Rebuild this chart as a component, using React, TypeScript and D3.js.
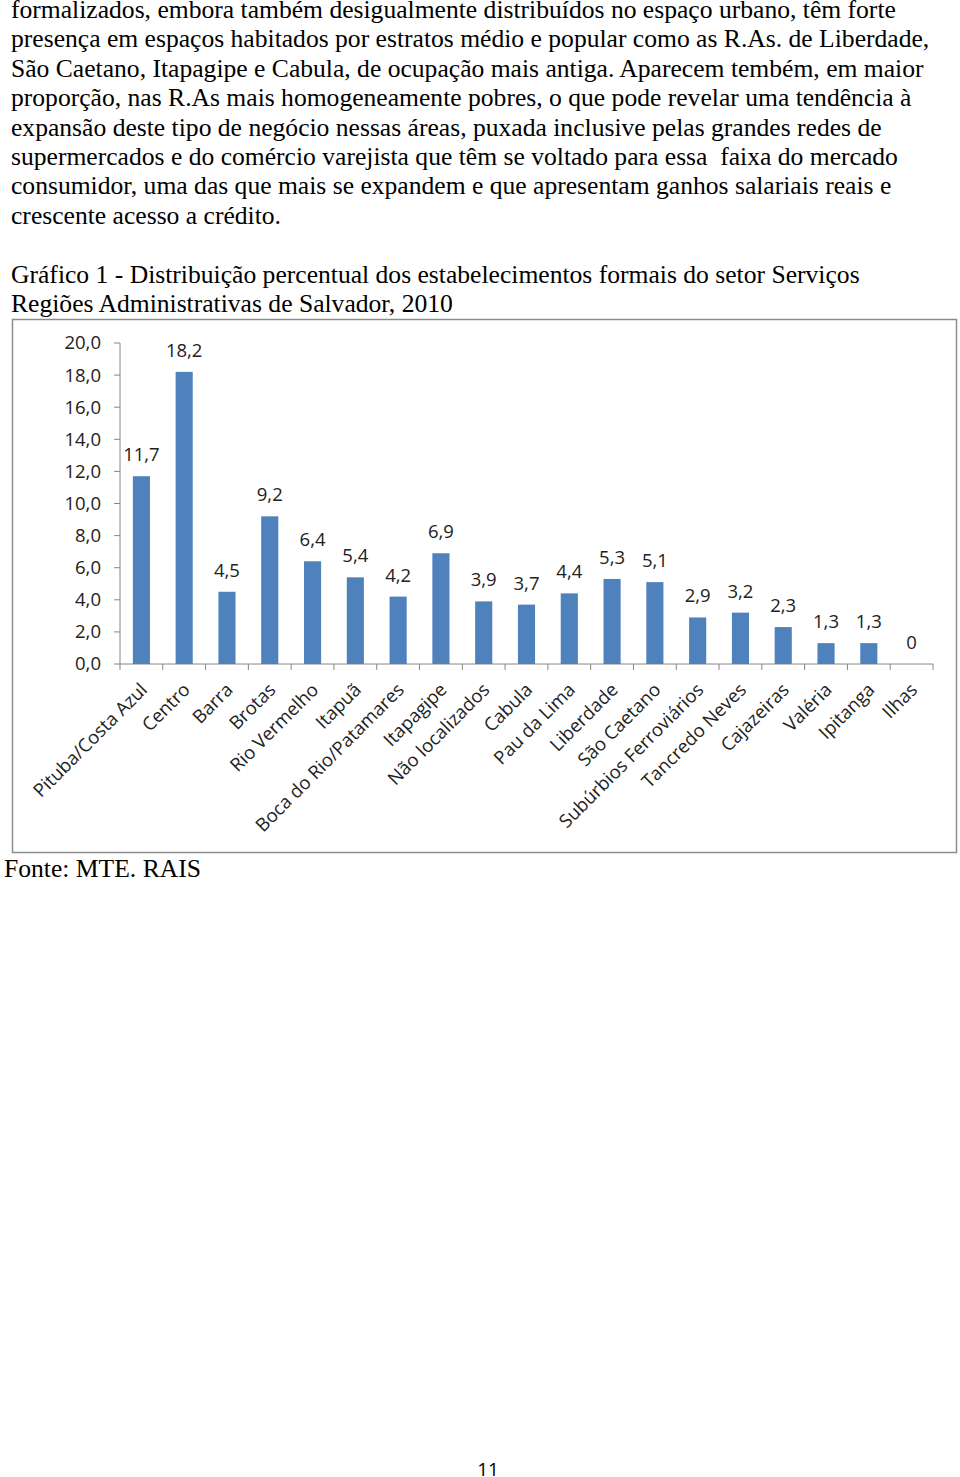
import React from "react";
import * as d3 from "d3";

const categories = [
  "Pituba/Costa Azul", "Centro", "Barra", "Brotas", "Rio Vermelho", "Itapuã",
  "Boca do Rio/Patamares", "Itapagipe", "Não localizados", "Cabula", "Pau da Lima",
  "Liberdade", "São Caetano", "Subúrbios Ferroviários", "Tancredo Neves",
  "Cajazeiras", "Valéria", "Ipitanga", "Ilhas",
];
const values = [11.7, 18.2, 4.5, 9.2, 6.4, 5.4, 4.2, 6.9, 3.9, 3.7, 4.4, 5.3, 5.1, 2.9, 3.2, 2.3, 1.3, 1.3, 0];
const yTicks = [0, 2, 4, 6, 8, 10, 12, 14, 16, 18, 20];

const bodyLines = [
  "formalizados, embora também desigualmente distribuídos no espaço urbano, têm forte",
  "presença em espaços habitados por estratos médio e popular como as R.As. de Liberdade,",
  "São Caetano, Itapagipe e Cabula, de ocupação mais antiga. Aparecem tembém, em maior",
  "proporção, nas R.As mais homogeneamente pobres, o que pode revelar uma tendência à",
  "expansão deste tipo de negócio nessas áreas, puxada inclusive pelas grandes redes de",
  "supermercados e do comércio varejista que têm se voltado para essa  faixa do mercado",
  "consumidor, uma das que mais se expandem e que apresentam ganhos salariais reais e",
  "crescente acesso a crédito.",
];
const titleLines = [
  "Gráfico 1 - Distribuição percentual dos estabelecimentos formais do setor Serviços",
  "Regiões Administrativas de Salvador, 2010",
];
const sourceText = "Fonte: MTE. RAIS";
const pageNumber = "11";

const fmt = (v: number) => (v === 0 ? "0" : v.toFixed(1).replace(".", ","));

export default function App() {
  const W = 960, H = 1477;
  const plotLeft = 120, plotRight = 933, plotTop = 343, plotBottom = 664;
  const x = d3.scaleBand<string>().domain(categories).range([plotLeft, plotRight]).paddingInner(0.6).paddingOuter(0.3);
  const xb = d3.scaleBand<string>().domain(categories).range([plotLeft, plotRight]);
  const y = d3.scaleLinear().domain([0, 20]).range([plotBottom, plotTop]);
  const axisColor = "#868686";
  const serif = "'Liberation Serif', 'Times New Roman', serif";
  const sans = "'Open Sans', sans-serif";
  const bodyFont = 25.6;
  const chartFont = 18.5;

  return (
    <svg width={W} height={H} style={{ position: "absolute", left: 0, top: 0, background: "#fff" }}>
      <rect x={0} y={0} width={W} height={H} fill="#fff" />
      {bodyLines.map((t, i) => (
        <text key={i} x={11} y={18 + i * 29.4} fontFamily={serif} fontSize={bodyFont} fill="#000" style={{ whiteSpace: "pre" }}>{t}</text>
      ))}
      {titleLines.map((t, i) => (
        <text key={i} x={11} y={283 + i * 29.4} fontFamily={serif} fontSize={bodyFont} fill="#000">{t}</text>
      ))}
      <rect x={12.5} y={319.5} width={944} height={533} fill="#fff" stroke="#8c8c8c" strokeWidth={1.5} />
      {/* y axis */}
      <line x1={plotLeft} x2={plotLeft} y1={plotTop} y2={plotBottom} stroke={axisColor} strokeWidth={1} />
      {yTicks.map((t) => (
        <g key={t}>
          <line x1={plotLeft - 6} x2={plotLeft} y1={y(t)} y2={y(t)} stroke={axisColor} />
          <text x={plotLeft - 19} y={y(t)} dy="0.35em" textAnchor="end" fontFamily={sans} fontSize={chartFont} fill="#222">{t.toFixed(1).replace(".", ",")}</text>
        </g>
      ))}
      {/* x axis */}
      <line x1={plotLeft} x2={plotRight} y1={plotBottom} y2={plotBottom} stroke={axisColor} />
      {[...categories.map((c) => xb(c) as number), plotRight].map((px, i) => (
        <line key={i} x1={px} x2={px} y1={plotBottom} y2={plotBottom + 6} stroke={axisColor} />
      ))}
      {categories.map((c, i) => {
        const bx = x(c) as number;
        const cx = bx + x.bandwidth() / 2;
        return (
          <g key={c}>
            {values[i] > 0 && (
              <rect x={bx} y={y(values[i])} width={x.bandwidth()} height={plotBottom - y(values[i])} fill="#4F81BD" />
            )}
            <text x={cx} y={y(values[i]) - 15} textAnchor="middle" fontFamily={sans} fontSize={chartFont} fill="#222">{fmt(values[i])}</text>
            <text transform={`translate(${cx + 7},${plotBottom + 27}) rotate(-45)`} textAnchor="end" fontFamily={sans} fontSize={chartFont} fill="#222">{c}</text>
          </g>
        );
      })}
      <text x={4} y={877} fontFamily={serif} fontSize={bodyFont} fill="#000">{sourceText}</text>
      <text x={488} y={1476} textAnchor="middle" fontFamily={sans} fontSize={19} fill="#000">{pageNumber}</text>
    </svg>
  );
}
